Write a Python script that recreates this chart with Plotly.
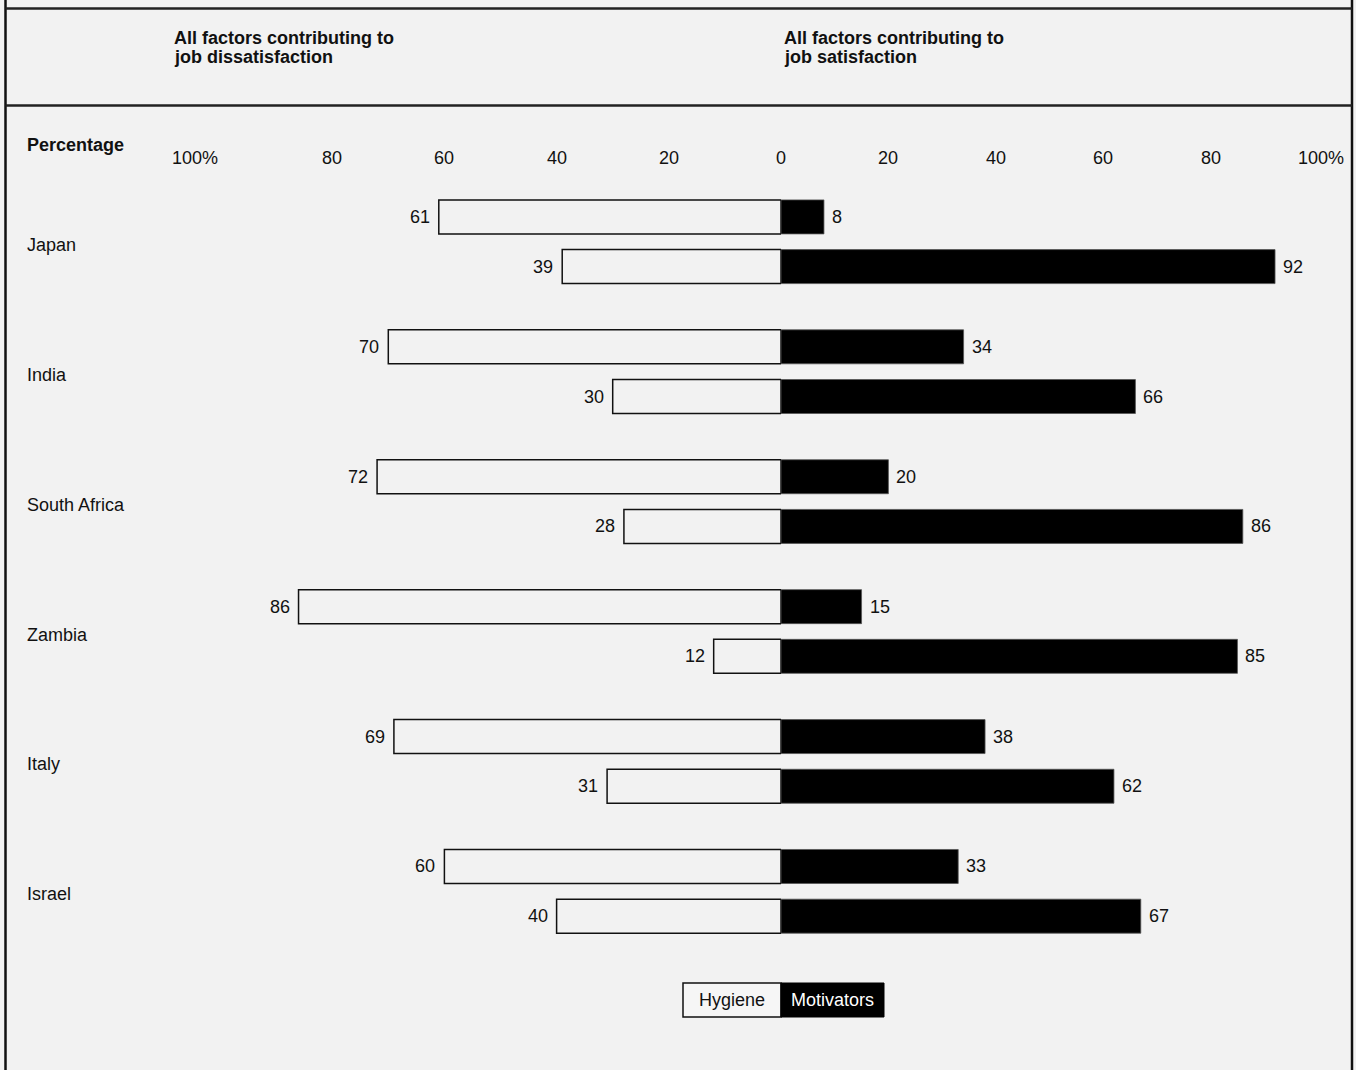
import plotly.graph_objects as go

# ---------------- data ----------------
countries = ["Japan", "India", "South Africa", "Zambia", "Italy", "Israel"]
hygiene_top = [61, 70, 72, 86, 69, 60]
motivators_top = [8, 34, 20, 15, 38, 33]
hygiene_bottom = [39, 30, 28, 12, 31, 40]
motivators_bottom = [92, 66, 86, 85, 62, 67]
tick_values = [100, 80, 60, 40, 20]
tick_labels = ["100%", "80", "60", "40", "20"]

# ---------------- layout constants ----------------
W, H = 1356, 1070
BG = "#f2f2f2"
FONT = "Liberation Sans, Arial, Helvetica, sans-serif"
GAP = 2.614          # distance between country groups (in bar-row units)
BAR_W = 0.684
PX_PER_UNIT = 49.7   # vertical pixels per row unit
Y_FIRST_PX = 216.9   # pixel centre of first row

ys_top = [g * GAP for g in range(len(countries))]
ys_bot = [g * GAP + 1 for g in range(len(countries))]

y_ids = ys_top + ys_bot
hyg_vals = hygiene_top + hygiene_bottom
mot_vals = motivators_top + motivators_bottom

fig = go.Figure()
fig.add_trace(go.Bar(
    y=y_ids, x=hyg_vals, orientation="h", width=BAR_W,
    marker=dict(color=BG, line=dict(color="#111111", width=1.5)),
    xaxis="x", yaxis="y", name="Hygiene", hoverinfo="x",
))
fig.add_trace(go.Bar(
    y=y_ids, x=mot_vals, orientation="h", width=BAR_W,
    marker=dict(color="#000000", line=dict(color="#555555", width=0.8)),
    xaxis="x2", yaxis="y", name="Motivators", hoverinfo="x",
))

ann = []
txt = dict(family=FONT, size=18, color="#111111")
bold = dict(family=FONT, size=18, color="#111111", weight="bold")

# value labels
for y, v in zip(y_ids, hyg_vals):
    ann.append(dict(x=v, y=y, xref="x", yref="y", text=str(v), showarrow=False,
                    xanchor="right", yanchor="middle", xshift=-7, font=txt))
for y, v in zip(y_ids, mot_vals):
    ann.append(dict(x=v, y=y, xref="x2", yref="y", text=str(v), showarrow=False,
                    xanchor="left", yanchor="middle", xshift=6, font=txt))

# country labels
for g, c in enumerate(countries):
    ann.append(dict(x=25 / W, y=g * GAP + 0.5, xref="paper", yref="y", text=c,
                    showarrow=False, xanchor="left", yanchor="middle", yshift=-3, font=txt))

# tick labels
tick_y = 1 - 158 / H
for v, t in zip(tick_values, tick_labels):
    ann.append(dict(x=v, y=tick_y, xref="x", yref="paper", text=t, showarrow=False,
                    xanchor="right" if v == 100 else "center", yanchor="middle", font=txt))
    ann.append(dict(x=v, y=tick_y, xref="x2", yref="paper", text=t, showarrow=False,
                    xanchor="center", yanchor="middle", xshift=3 if v == 100 else 0, font=txt))
ann.append(dict(x=0, y=tick_y, xref="x2", yref="paper", text="0", showarrow=False,
                xanchor="center", yanchor="middle", font=txt))

# headings
ann.append(dict(x=25 / W, y=1 - 145 / H, xref="paper", yref="paper", text="Percentage",
                showarrow=False, xanchor="left", yanchor="middle", font=bold))
for x0, lines in [(172, ["All factors contributing to", "job dissatisfaction"]),
                  (782, ["All factors contributing to", "job satisfaction"])]:
    for i, line in enumerate(lines):
        ann.append(dict(x=x0 / W, y=1 - (38 + 19 * i) / H, xref="paper", yref="paper",
                        text=line, showarrow=False, xanchor="left", yanchor="middle",
                        font=bold))

# legend
leg_y0, leg_y1 = 1 - 1017 / H, 1 - 983 / H
ann.append(dict(x=732 / W, y=(leg_y0 + leg_y1) / 2, xref="paper", yref="paper",
                text="Hygiene", showarrow=False, xanchor="center", yanchor="middle",
                font=txt))
ann.append(dict(x=832.5 / W, y=(leg_y0 + leg_y1) / 2, xref="paper", yref="paper",
                text="Motivators", showarrow=False, xanchor="center", yanchor="middle",
                font=dict(family=FONT, size=18, color="#ffffff")))

shapes = [
    dict(type="rect", xref="paper", yref="paper", x0=683 / W, x1=781 / W, y0=leg_y0, y1=leg_y1,
         fillcolor="#f6f6f6", line=dict(color="#111111", width=1.5)),
    dict(type="rect", xref="paper", yref="paper", x0=781 / W, x1=884 / W, y0=leg_y0, y1=leg_y1,
         fillcolor="#000000", line=dict(color="#000000", width=1)),
    # frame
    dict(type="line", xref="paper", yref="paper", x0=5.5 / W, x1=5.5 / W, y0=0, y1=1,
         line=dict(color="#111111", width=2.5)),
    dict(type="line", xref="paper", yref="paper", x0=1352 / W, x1=1352 / W, y0=0, y1=1,
         line=dict(color="#111111", width=2.5)),
    dict(type="line", xref="paper", yref="paper", x0=5.5 / W, x1=1352 / W,
         y0=1 - 8.5 / H, y1=1 - 8.5 / H, line=dict(color="#222222", width=2.5)),
    dict(type="line", xref="paper", yref="paper", x0=5.5 / W, x1=1352 / W,
         y0=1 - 105.5 / H, y1=1 - 105.5 / H, line=dict(color="#222222", width=2.5)),
]

y_top_unit = (0 - Y_FIRST_PX) / PX_PER_UNIT
y_bot_unit = (H - Y_FIRST_PX) / PX_PER_UNIT

fig.update_layout(
    width=W, height=H,
    margin=dict(l=0, r=0, t=0, b=0),
    paper_bgcolor=BG, plot_bgcolor=BG,
    showlegend=False,
    barmode="overlay",
    font=txt,
    xaxis=dict(domain=[220 / W, 781 / W], range=[100, 0], visible=False, fixedrange=True),
    xaxis2=dict(domain=[781 / W, 1318 / W], range=[0, 100], visible=False, anchor="y",
                fixedrange=True),
    yaxis=dict(range=[y_bot_unit, y_top_unit], visible=False, domain=[0, 1], fixedrange=True),
    annotations=ann,
    shapes=shapes,
)

fig.write_html(
    "out.html",
    config={"displayModeBar": False},
    post_script="document.body.style.margin='0';document.body.style.background='%s';" % BG,
)
